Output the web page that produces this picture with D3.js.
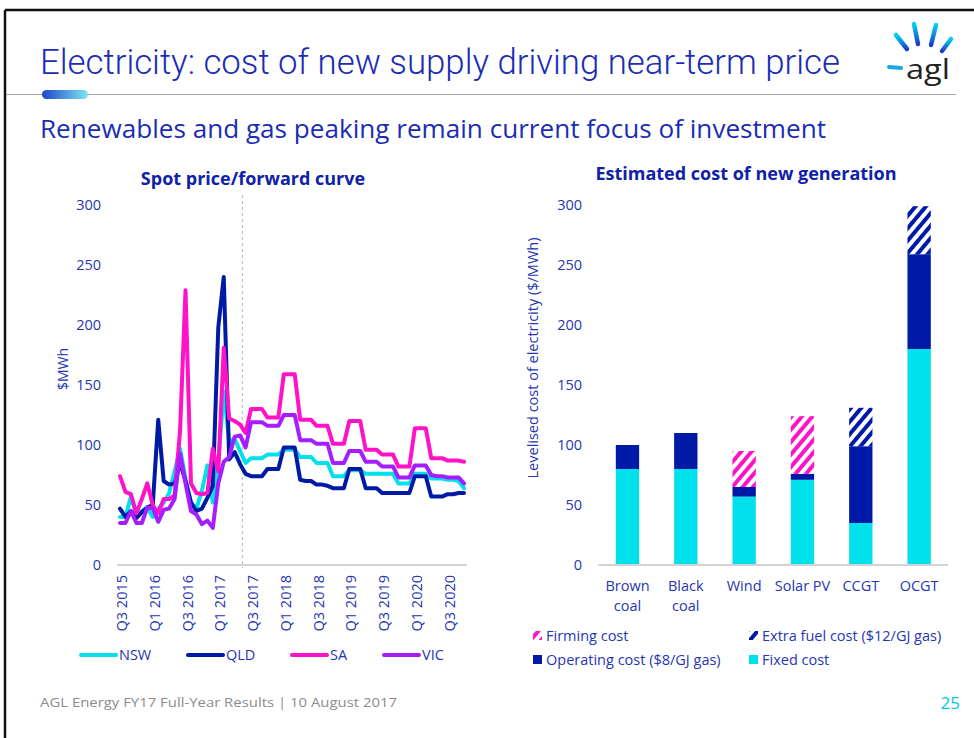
<!DOCTYPE html>
<html><head><meta charset="utf-8">
<script src="https://cdn.jsdelivr.net/npm/d3@7/dist/d3.min.js"></script>
<style>
html,body{margin:0;padding:0;background:#fff;}
svg{display:block;font-family:"Open Sans",sans-serif;}
</style></head><body>
<svg id="chart" width="974" height="738"></svg>
<script>
// ---------- DATA ----------
const months = ["2015-07","2015-08","2015-09","2015-10","2015-11","2015-12",
"2016-01","2016-02","2016-03","2016-04","2016-05","2016-06","2016-07","2016-08","2016-09","2016-10","2016-11","2016-12",
"2017-01","2017-02","2017-03","2017-04","2017-05","2017-06","2017-07","2017-08","2017-09","2017-10","2017-11","2017-12",
"2018-01","2018-02","2018-03","2018-04","2018-05","2018-06","2018-07","2018-08","2018-09","2018-10","2018-11","2018-12",
"2019-01","2019-02","2019-03","2019-04","2019-05","2019-06","2019-07","2019-08","2019-09","2019-10","2019-11","2019-12",
"2020-01","2020-02","2020-03","2020-04","2020-05","2020-06","2020-07","2020-08","2020-09","2020-10"];
const quarterTicks = ["2015-07","2016-01","2016-07","2017-01","2017-07","2018-01","2018-07","2019-01","2019-07","2020-01","2020-07"];
const quarterTickLabels = ["Q3 2015","Q1 2016","Q3 2016","Q1 2017","Q3 2017","Q1 2018","Q3 2018","Q1 2019","Q3 2019","Q1 2020","Q3 2020"];
const priceTicks = [0,50,100,150,200,250,300];
const forecastStart = 22.4; // index along months where forward curve begins

const seriesNames = ["NSW","QLD","SA","VIC"];
const nsw = [40,40,57,42,45,48,40,47,52,60,78,97,72,52,47,62,83,52,85,145,103,105,95,85,
89,89,89,92,92,92,96,96,96,90,90,90,85,85,85,74,74,74,79,79,79,76,76,76,76,76,76,68,68,68,76,76,76,72,72,72,71,71,70,64];
const qld = [47,40,45,39,44,48,50,121,70,67,68,85,70,52,45,47,56,66,198,240,88,94,84,76,
74,74,74,80,80,80,98,98,98,71,70,70,67,67,66,64,64,64,80,80,80,64,64,64,60,60,60,60,60,60,74,74,74,57,57,57,59,59,60,60];
const sa  = [74,61,59,43,55,68,50,43,55,55,58,112,229,68,60,59,60,97,78,181,122,120,117,110,
130,130,130,123,123,123,159,159,159,121,121,121,116,116,116,101,101,101,120,120,120,96,96,96,92,92,92,82,82,82,114,114,114,89,89,89,87,87,87,86];
const vic = [35,35,45,35,35,48,47,36,46,47,55,93,68,45,42,34,37,31,68,86,90,107,108,98,
119,119,119,116,116,116,125,125,125,104,104,104,101,101,101,85,85,85,95,95,95,86,86,86,82,82,82,73,73,73,83,83,83,75,74,74,73,73,73,68];

const genCategories = ["Brown coal","Black coal","Wind","Solar PV","CCGT","OCGT"];
const genLabelLines = [["Brown","coal"],["Black","coal"],["Wind"],["Solar PV"],["CCGT"],["OCGT"]];
const fixedCost     = [80, 80, 57, 71, 35, 180];
const operatingCost = [20, 30, 8, 5, 64, 79];
const firmingCost   = [0, 0, 30, 48, 0, 0];
const extraFuelCost = [0, 0, 0, 0, 32, 40];
const costTicks = [0,50,100,150,200,250,300];
const costLegend = ["Firming cost","Extra fuel cost ($12/GJ gas)","Operating cost ($8/GJ gas)","Fixed cost"];

// ---------- STYLE ----------
const COL = {nsw:"#00E1EC", qld:"#001AA8", sa:"#FF12C8", vic:"#A41EFF",
  text:"#2536B2", head:"#0F21A6", title:"#1B2DB4", grid:"#d4d4d4"};
const lineColors = [COL.nsw, COL.qld, COL.sa, COL.vic];
const FS = 14.5;

const svg = d3.select("#chart");
const defs = svg.append("defs");

// page frame
svg.append("rect").attr("x",0).attr("y",0).attr("width",974).attr("height",738).attr("fill","#fff");
svg.append("line").attr("x1",5).attr("x2",974).attr("y1",10).attr("y2",10).attr("stroke","#111").attr("stroke-width",2.5);
svg.append("line").attr("x1",5).attr("x2",5).attr("y1",10).attr("y2",738).attr("stroke","#111").attr("stroke-width",2.5);
svg.append("line").attr("x1",6).attr("x2",956).attr("y1",94.5).attr("y2",94.5).attr("stroke","#a8a8a8").attr("stroke-width",1);

const pg = defs.append("linearGradient").attr("id","pill");
pg.append("stop").attr("offset","0").attr("stop-color","#1F46C6");
pg.append("stop").attr("offset","1").attr("stop-color","#7FE6F5");
svg.append("rect").attr("x",42).attr("y",90).attr("width",46).attr("height",9).attr("rx",4.5).attr("fill","url(#pill)");

// title & subtitle
svg.append("text").attr("x",40).attr("y",74).attr("font-family","Roboto, 'Open Sans', sans-serif")
  .attr("font-weight",300).attr("font-size",35).attr("fill",COL.title)
  .attr("textLength",800).attr("lengthAdjust","spacingAndGlyphs")
  .text("Electricity: cost of new supply driving near-term price");
svg.append("text").attr("x",40).attr("y",138).attr("font-size",26).attr("fill",COL.title)
  .attr("textLength",786).attr("lengthAdjust","spacingAndGlyphs")
  .text("Renewables and gas peaking remain current focus of investment");

// logo
const lg = defs.append("linearGradient").attr("id","ray").attr("x1","0").attr("y1","0").attr("x2","0").attr("y2","1");
lg.append("stop").attr("offset","0").attr("stop-color","#00D4F0");
lg.append("stop").attr("offset","1").attr("stop-color","#1B3FC9");
const rays = [[896,35,907,49],[914,24,918,44],[936,25,931,45],[951,39,942,51]];
svg.selectAll("line.ray").data(rays).enter().append("line")
  .attr("x1",d=>d[0]).attr("y1",d=>d[1]).attr("x2",d=>d[2]).attr("y2",d=>d[3])
  .attr("stroke","url(#ray)").attr("stroke-width",4.5).attr("stroke-linecap","round");
svg.append("line").attr("x1",889).attr("y1",67).attr("x2",901).attr("y2",68)
  .attr("stroke","#1AA8E0").attr("stroke-width",4).attr("stroke-linecap","round");
svg.append("text").attr("x",906).attr("y",79).attr("font-family","'Open Sans', sans-serif")
  .attr("font-size",27).attr("fill","#222").attr("textLength",44).attr("lengthAdjust","spacingAndGlyphs").text("agl");

// ---------- LEFT CHART ----------
const xL = d3.scalePoint().domain(months).range([120,464]);
const yL = d3.scaleLinear().domain([0,300]).range([565,205]);

svg.append("text").attr("x",253).attr("y",185).attr("text-anchor","middle")
  .attr("font-size",18).attr("font-weight",700).attr("fill",COL.head).text("Spot price/forward curve");

const yAxL = svg.append("g").attr("transform","translate(104,0)")
  .call(d3.axisLeft(yL).tickValues(priceTicks).tickSize(0).tickPadding(3));
yAxL.select(".domain").remove();
yAxL.selectAll("text").attr("font-size",FS).attr("fill",COL.text).attr("font-family","'Open Sans', sans-serif");

svg.append("text").attr("transform","translate(68,369) rotate(-90)").attr("text-anchor","middle")
  .attr("font-size",14).attr("fill",COL.text).text("$MWh");

// x axis line
svg.append("line").attr("x1",xL.range()[0]-3).attr("x2",xL.range()[1]+3).attr("y1",565).attr("y2",565)
  .attr("stroke",COL.grid).attr("stroke-width",2);

const xAxL = svg.append("g").attr("transform","translate(0,565)")
  .call(d3.axisBottom(xL).tickValues(quarterTicks).tickSize(0)
    .tickFormat(d=>quarterTickLabels[quarterTicks.indexOf(d)]));
xAxL.select(".domain").remove();
xAxL.selectAll("text").attr("font-size",FS).attr("fill",COL.text).attr("font-family","'Open Sans', sans-serif")
  .attr("transform","rotate(-90)").attr("text-anchor","end").attr("x",-10).attr("y",0).attr("dy","0.45em");

// forward curve marker
const fx = xL(months[Math.floor(forecastStart)]) + (forecastStart%1)*xL.step();
svg.append("line").attr("x1",fx).attr("x2",fx).attr("y1",195).attr("y2",568)
  .attr("stroke","#b5b5b5").attr("stroke-width",1).attr("stroke-dasharray","3,3");

const line = d3.line().x((d,i)=>xL(months[i])).y(d=>yL(d));
[nsw,qld,sa,vic].forEach((s,k)=>{
  svg.append("path").datum(s).attr("d",line).attr("fill","none")
    .attr("stroke",lineColors[k]).attr("stroke-width",4)
    .attr("stroke-linejoin","round").attr("stroke-linecap","round");
});

// legend left
const legX = [80,187,291,383];
seriesNames.forEach((n,k)=>{
  svg.append("line").attr("x1",legX[k]+1).attr("x2",legX[k]+36).attr("y1",655).attr("y2",655)
    .attr("stroke",lineColors[k]).attr("stroke-width",4).attr("stroke-linecap","round");
  svg.append("text").attr("x",legX[k]+39).attr("y",660).attr("font-size",FS).attr("fill",COL.text).text(n);
});

// ---------- RIGHT CHART ----------
const xR = d3.scaleBand().domain(genCategories).range([598.3,948.3]).paddingInner(0.6).paddingOuter(0.3);
const yR = d3.scaleLinear().domain([0,300]).range([565,205]);

svg.append("text").attr("x",746).attr("y",180).attr("text-anchor","middle")
  .attr("font-size",18).attr("font-weight",700).attr("fill",COL.head).text("Estimated cost of new generation");

const yAxR = svg.append("g").attr("transform","translate(585,0)")
  .call(d3.axisLeft(yR).tickValues(costTicks).tickSize(0).tickPadding(3));
yAxR.select(".domain").remove();
yAxR.selectAll("text").attr("font-size",FS).attr("fill",COL.text).attr("font-family","'Open Sans', sans-serif");

svg.append("text").attr("transform","translate(538,358) rotate(-90)").attr("text-anchor","middle")
  .attr("font-size",14.5).attr("fill",COL.text).text("Levelised cost of electricity ($/MWh)");

// hatch patterns
function hatch(id,color){
  const p = defs.append("pattern").attr("id",id).attr("patternUnits","userSpaceOnUse")
    .attr("width",8).attr("height",8).attr("patternTransform","rotate(40)");
  p.append("rect").attr("width",8).attr("height",8).attr("fill","#fff");
  p.append("rect").attr("x",0).attr("y",0).attr("width",4).attr("height",8).attr("fill",color);
}
hatch("hatchPink",COL.sa);
hatch("hatchNavy",COL.qld);

const rows = genCategories.map((c,i)=>({cat:c, fixed:fixedCost[i], operating:operatingCost[i], firming:firmingCost[i], extra:extraFuelCost[i]}));
const keys = ["fixed","operating","firming","extra"];
const fills = {fixed:COL.nsw, operating:COL.qld, firming:"url(#hatchPink)", extra:"url(#hatchNavy)"};
const stacked = d3.stack().keys(keys)(rows);
stacked.forEach(layer=>{
  svg.append("g").selectAll("rect").data(layer.filter(d=>d[1]>d[0])).enter().append("rect")
    .attr("x",d=>xR(d.data.cat)).attr("width",xR.bandwidth())
    .attr("y",d=>yR(d[1])).attr("height",d=>yR(d[0])-yR(d[1]))
    .attr("fill",fills[layer.key]);
});

svg.append("line").attr("x1",598.3).attr("x2",948.3).attr("y1",565).attr("y2",565)
  .attr("stroke",COL.grid).attr("stroke-width",2);

genCategories.forEach((c,i)=>{
  const cx = xR(c)+xR.bandwidth()/2;
  genLabelLines[i].forEach((t,j)=>{
    svg.append("text").attr("x",cx).attr("y",591+j*20).attr("text-anchor","middle")
      .attr("font-size",FS).attr("fill",COL.text).text(t);
  });
});

// legend right
const legItems = [
  {x:533,y:631,fill:"url(#hatchPink)",label:costLegend[0]},
  {x:749,y:631,fill:"url(#hatchNavy)",label:costLegend[1]},
  {x:533,y:655,fill:COL.qld,label:costLegend[2]},
  {x:749,y:655,fill:COL.nsw,label:costLegend[3]}];
legItems.forEach(d=>{
  svg.append("rect").attr("x",d.x).attr("y",d.y).attr("width",9).attr("height",9).attr("fill",d.fill);
  svg.append("text").attr("x",d.x+13).attr("y",d.y+9.5).attr("font-size",FS).attr("fill",COL.text).text(d.label);
});

// footer
svg.append("text").attr("x",40).attr("y",707).attr("font-size",13).attr("fill","#8c8c8c")
  .attr("textLength",357).attr("lengthAdjust","spacingAndGlyphs")
  .text("AGL Energy FY17 Full-Year Results  |  10 August 2017");
svg.append("text").attr("x",960).attr("y",709).attr("text-anchor","end").attr("font-size",17)
  .attr("fill","#00C8DC").text("25");
</script>
</body></html>
